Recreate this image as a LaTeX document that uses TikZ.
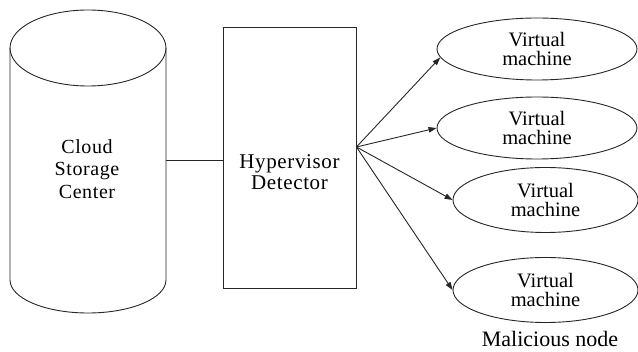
\documentclass[tikz,border=0pt]{standalone}
\usepackage{fontspec}
\setmainfont{Liberation Serif}
\usetikzlibrary{shapes.geometric,arrows.meta}
\begin{document}
\begin{tikzpicture}[x=1pt,y=-1pt,
  outline/.style={draw=black!85, line width=0.9pt},
  link/.style={outline, -{Triangle[length=8pt,width=5.5pt]}},
  spaced/.style={align=center, font=\fontsize{20}{22.5}\selectfont\addfontfeature{LetterSpace=3}},
  vm/.style={ellipse, outline, inner sep=0pt, minimum width=200pt, minimum height=62pt,
    align=center, font=\fontsize{20.5}{19}\selectfont},
  vmsmall/.style={vm, minimum width=185pt, minimum height=65pt}]
\useasboundingbox (0,0) rectangle (638,352);

% storage cylinder
\draw[outline] (88,48) ellipse [x radius=78pt, y radius=38pt];
\draw[outline] (10,48) -- (10,280) arc[start angle=180, end angle=360, x radius=78pt, y radius=33pt] -- (166,48);
\node[spaced] (store) at (87,169) {Cloud\\Storage\\Center};
\coordinate (storeE) at (166,160);

% hypervisor box
\node[outline, rectangle, minimum width=133pt, minimum height=261pt, inner sep=0pt] (hyp) at (289.5,157.5) {};
\node[align=center, font=\fontsize{21}{21}\selectfont\addfontfeature{LetterSpace=3}] (hyptext) at (289.5,172) {Hypervisor\\Detector};
\coordinate (fan) at ([yshift=10.5pt]hyp.east);

% virtual machines
\node[vm] (vm1) at (537,49) {Virtual\\machine};
\node[vm] (vm2) at (537,128) {Virtual\\machine};
\node[vmsmall] (vm3) at (545.5,200) {Virtual\\machine};
\node[vmsmall] (vm4) at (545.5,290) {Virtual\\machine};
\node[anchor=base, font=\fontsize{22}{24}\selectfont] (mal) at (550,347) {Malicious node};

% connectors
\draw[outline] (storeE) -- (storeE -| hyp.west);
\draw[link] (fan) -- (vm1.185);
\draw[link] (fan) -- (vm2.west);
\draw[link] (fan) -- (vm3.west);
\draw[link] (fan) -- (vm4.west);
\end{tikzpicture}
\end{document}
